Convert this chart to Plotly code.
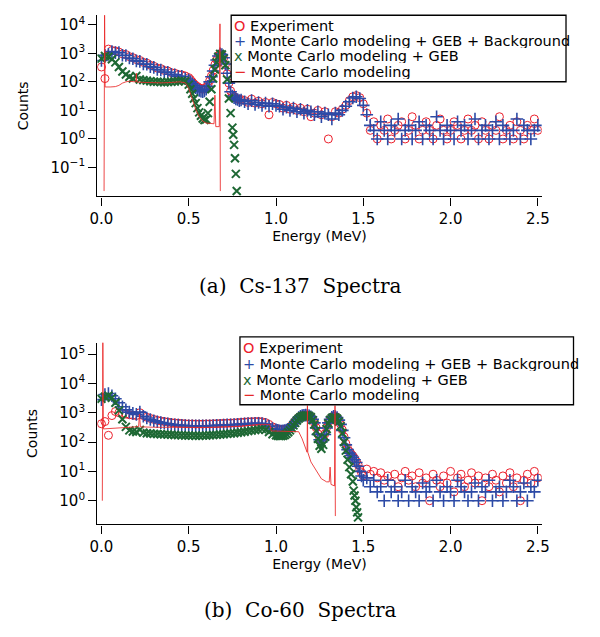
import plotly.graph_objects as go

# ---------------- Cs-137 data ----------------
CS_E = [0.00,0.02,0.04,0.06,0.08,0.10,0.12,0.14,0.16,0.18,0.20,0.22,0.24,0.26,0.28,0.30,0.32,0.34,0.36,0.38,
        0.40,0.42,0.44,0.46,0.48,0.50,
        0.51,0.52,0.53,0.54,0.55,0.56,0.57,0.58,0.59,0.60,0.61,0.62,0.63,0.64,0.65,0.66,0.67,0.68,0.69,0.70,
        0.71,0.72,0.73,0.74,0.75,0.76,0.77,0.78,0.79,0.80,
        0.82,0.84,0.86,0.88,0.90,0.92,0.94,0.96,0.98,1.00,
        1.02,1.04,1.06,1.08,1.10,1.12,1.14,1.16,1.18,1.20,1.22,1.24,1.26,1.28,1.30,1.32,1.34,1.36,1.38,1.40,
        1.42,1.44,1.46,1.48,1.50,1.52,
        1.54,1.56,1.58,1.60,1.62,1.64,1.66,1.68,1.70,1.72,1.74,1.76,1.78,1.80,1.82,1.84,1.86,1.88,1.90,1.92,
        1.94,1.96,1.98,2.00,2.02,2.04,2.06,2.08,2.10,2.12,2.14,2.16,2.18,2.20,2.22,2.24,2.26,2.28,2.30,2.32,
        2.34,2.36,2.38,2.40,2.42,2.44,2.46,2.48,2.50]

CS_EXP = [330,130,1400,1250,1200,1100,950,900,760,700,600,560,480,450,380,350,300,290,250,240,
          210,200,180,175,160,140,
          120,100,85,75,68,62,58,55,58,65,80,110,160,250,400,600,820,950,880,680,
          400,190,90,48,35,30,27,25,24,24,
          22,19,25,18,21,17,19,7,19,17,
          16,12,15,11,13,10,12,9,11,6,8,10,7,9,1,6,9,8,11,15,
          22,30,33,28,17,8,
          2,4,1,3,2,5,1,2,3,4,1,2,6,3,1,2,4,2,1,3,
          5,2,1,2,4,3,1,2,5,2,3,1,4,2,1,3,2,6,1,2,
          3,1,4,2,1,3,2,5,2]

CS_GEB_BG = [560,850,920,1150,1050,1050,850,830,680,640,540,520,420,410,340,320,270,260,220,215,
             185,175,155,155,130,115,
             100,85,72,62,55,50,47,45,48,55,70,100,150,240,380,580,800,950,900,700,
             420,200,90,45,32,28,25,24,22,23,
             20,17,22,16,19,15,18,14,17,15,
             14,11,13,10,12,9,11,8,10,9,7,9,6,8,7,5,8,7,10,14,
             20,27,30,26,15,7,
             3,2,1,4,2,1,3,2,5,1,2,3,1,2,4,1,3,2,1,6,
             2,1,3,2,1,4,2,3,1,2,5,1,2,3,1,2,4,1,3,2,
             1,2,5,1,3,2,1,2,3]

CS_GEB_E = [0.00,0.02,0.04,0.06,0.08,0.10,0.12,0.14,0.16,0.18,0.20,0.22,0.24,0.26,0.28,0.30,0.32,0.34,0.36,0.38,
            0.40,0.42,0.44,0.46,0.48,0.50,
            0.51,0.52,0.53,0.54,0.55,0.56,0.57,0.58,0.59,0.60,0.61,0.62,0.63,0.64,0.65,0.66,0.67,0.68,0.69,0.70,
            0.71,0.72,0.73,0.74,0.75,0.755,0.76,0.765,0.77,0.775]
CS_GEB = [650,800,750,620,480,330,230,180,150,130,160,120,115,110,105,100,100,98,97,98,
          100,102,105,110,105,80,
          55,38,26,18,12,8.5,6.5,5.2,4.6,4.8,8,20,55,130,270,480,760,950,900,650,
          380,120,26,8,2.5,1.4,0.62,0.21,0.06,0.015]

CS_MC_E = [0.015,0.018,0.021,0.05,0.08,0.10,0.12,0.14,0.16,0.19,0.197,0.200,0.203,0.25,0.30,0.35,0.40,0.45,
           0.48,0.50,0.52,0.54,0.56,0.58,0.60,0.62,0.645,0.650,0.655,0.675,0.679,0.681]
CS_MC = [0.015,30000,66,66,68,75,90,100,105,100,100,200,98,95,92,92,95,100,
         92,60,25,11,6,4.2,3.6,3.5,3.4,34,2.7,2.7,10700,0.015]

# ---------------- Co-60 data ----------------
CO_E = [0.00,0.02,0.04,0.06,0.08,0.10,0.12,0.14,0.16,0.18,0.20,0.22,0.24,0.26,0.28,0.30,0.32,0.34,0.36,0.38,
        0.40,0.42,0.44,0.46,0.48,0.50,0.52,0.54,0.56,0.58,0.60,0.62,0.64,0.66,0.68,0.70,0.72,0.74,0.76,0.78,
        0.80,0.82,0.84,0.86,0.88,0.90,0.92,0.94,0.96,0.98,1.00,
        1.01,1.02,1.03,1.04,1.05,1.06,1.07,1.08,1.09,1.10,1.11,1.12,1.13,1.14,1.15,1.16,1.17,1.18,1.19,1.20,
        1.21,1.22,1.23,1.24,1.25,1.26,1.27,1.28,1.29,1.30,1.31,1.32,1.33,1.34,1.35,1.36,1.37,1.38,1.39,1.40,
        1.41,1.42,1.43,1.44,1.45,1.46,1.47,1.48,1.49,1.50,
        1.52,1.54,1.56,1.58,1.60,1.62,1.64,1.66,1.68,1.70,1.72,1.74,1.76,1.78,1.80,1.82,1.84,1.86,1.88,1.90,
        1.92,1.94,1.96,1.98,2.00,2.02,2.04,2.06,2.08,2.10,2.12,2.14,2.16,2.18,2.20,2.22,2.24,2.26,2.28,2.30,
        2.32,2.34,2.36,2.38,2.40,2.42,2.44,2.46,2.48,2.50]

CO_EXP = [420,500,170,800,1100,1000,950,900,850,820,800,
          1000,800,700,640,590,550,520,500,480,460,
          450,440,430,420,415,415,410,410,410,415,
          415,420,425,430,435,440,445,450,460,470,
          480,490,495,500,505,490,460,400,330,290,
          280,270,265,265,270,280,290,320,370,440,
          520,600,690,760,800,830,840,830,800,730,
          610,460,310,190,130,110,130,190,310,460,
          610,710,760,750,690,570,410,260,150,90,
          60,48,40,34,28,22,17,12,9,7,
          12,8,10,6,9,5,7,4,8,3,6,10,5,7,3,9,4,6,1,8,
          5,3,7,4,10,2,6,8,3,5,9,4,7,1,6,3,8,5,2,7,
          4,9,3,6,1,5,8,4,10,6]

CO_GEB_BG = [2800,4200,4500,3800,3000,2200,1600,1250,1050,950,
             880,1050,760,660,590,530,490,460,440,420,
             400,390,380,370,365,360,360,355,355,355,
             360,360,365,370,375,380,385,390,395,400,
             410,420,430,430,435,440,430,400,350,290,260,
             250,240,235,240,245,255,270,300,350,420,
             500,590,680,750,800,820,830,820,790,720,
             600,450,300,180,120,100,120,180,300,450,
             600,700,750,740,680,560,400,250,140,80,
             55,42,35,30,25,20,15,10,7,5,
             6,3,5,2,3,1,5,2,3,1,2,5,1,3,2,1,4,2,3,1,
             5,2,1,3,2,1,5,3,2,1,2,4,1,3,2,5,1,2,3,1,
             2,5,3,1,2,4,1,3,2,5]

CO_GEB_E = [0.00,0.02,0.04,0.06,0.08,0.10,0.12,0.14,0.16,0.18,0.20,0.22,0.24,0.26,0.28,0.30,0.32,0.34,0.36,0.38,
            0.40,0.42,0.44,0.46,0.48,0.50,0.52,0.54,0.56,0.58,0.60,0.62,0.64,0.66,0.68,0.70,0.72,0.74,0.76,0.78,
            0.80,0.82,0.84,0.86,0.88,0.90,0.92,0.94,0.96,0.98,1.00,
            1.01,1.02,1.03,1.04,1.05,1.06,1.07,1.08,1.09,1.10,1.11,1.12,1.13,1.14,1.15,1.16,1.17,1.18,1.19,1.20,
            1.21,1.22,1.23,1.24,1.25,1.26,1.27,1.28,1.29,1.30,1.31,1.32,1.33,1.34,1.35,1.36,1.37,1.38,1.39,1.40,
            1.41,1.42,1.43,1.44,1.445,1.45,1.455,1.46,1.465,1.47]
CO_GEB = [3000,3500,3800,3200,2200,1200,600,330,250,230,
          220,260,210,200,195,190,188,185,183,180,
          178,175,172,170,168,167,166,165,165,166,
          168,170,173,176,180,185,190,195,200,207,
          215,225,235,245,255,265,275,260,220,185,170,
          165,160,160,165,175,190,215,250,300,370,
          450,540,630,700,760,790,800,800,780,700,
          560,400,240,130,75,59,80,150,280,430,
          570,660,700,690,620,500,350,200,100,51,
          25,14,8,4.5,2.2,1.5,1.0,0.6,0.4,0.27]

CO_MC_E = [0.005,0.008,0.011,0.05,0.10,0.15,0.20,0.213,0.218,0.223,0.30,0.40,0.50,0.60,0.70,0.80,0.85,0.90,
           0.95,0.965,0.972,1.00,1.05,1.10,1.13,1.15,1.165,1.178,1.180,1.182,1.20,1.23,1.26,1.29,1.305,
           1.310,1.315,1.335,1.338,1.340]
CO_MC = [1,300000,280,290,300,320,335,335,900,330,320,315,310,315,325,340,370,400,
         400,390,240,235,232,230,225,128,66,45,1750,45,21,10.7,5.6,4.4,4.4,
         14,3.6,3.2,1750,0.3]

X_TICKS = [0, 0.5, 1.0, 1.5, 2.0, 2.5]
X_TICK_TEXT = ["0.0", "0.5", "1.0", "1.5", "2.0", "2.5"]
CS_Y_TICKS = [0.1, 1, 10, 100, 1000, 10000]
CS_Y_TEXT = ["10<sup>\u22121</sup>", "10<sup>0</sup>", "10<sup>1</sup>", "10<sup>2</sup>",
             "10<sup>3</sup>", "10<sup>4</sup>"]
CO_Y_TICKS = [1, 10, 100, 1000, 10000, 100000]
CO_Y_TEXT = ["10<sup>0</sup>", "10<sup>1</sup>", "10<sup>2</sup>", "10<sup>3</sup>",
             "10<sup>4</sup>", "10<sup>5</sup>"]

SERIES = ["Experiment", "Monte Carlo modeling + GEB + Background",
          "Monte Carlo modeling + GEB", "Monte Carlo modeling"]

RED = "rgb(236,32,44)"
BLUE = "rgb(44,74,166)"
GREEN = "rgb(30,104,52)"
LINE_RED = "rgba(234,40,40,0.85)"

W, H = 600, 637
def px(x):
    return x / W
def py(y):
    return 1 - y / H

fig = go.Figure()

def add_panel(xa, ya, e_exp, exp, e_bg, bg, e_geb, geb, e_mc, mc):
    fig.add_trace(go.Scatter(x=e_exp, y=exp, mode="markers", name=SERIES[0], xaxis=xa, yaxis=ya,
                             marker=dict(symbol="circle-open", size=8, color=RED, line=dict(width=1, color=RED))))
    fig.add_trace(go.Scatter(x=e_bg, y=bg, mode="markers", name=SERIES[1], xaxis=xa, yaxis=ya,
                             marker=dict(symbol="cross-thin-open", size=9, color=BLUE, line=dict(width=1.6, color=BLUE))))
    fig.add_trace(go.Scatter(x=e_geb, y=geb, mode="markers", name=SERIES[2], xaxis=xa, yaxis=ya,
                             marker=dict(symbol="x-thin-open", size=8, color=GREEN, line=dict(width=2, color=GREEN))))
    fig.add_trace(go.Scatter(x=e_mc, y=mc, mode="lines", name=SERIES[3], xaxis=xa, yaxis=ya,
                             line=dict(color=LINE_RED, width=1)))

add_panel("x", "y", CS_E, CS_EXP, CS_E, CS_GEB_BG, CS_GEB_E, CS_GEB, CS_MC_E, CS_MC)
add_panel("x2", "y2", CO_E, CO_EXP, CO_E, CO_GEB_BG, CO_GEB_E, CO_GEB, CO_MC_E, CO_MC)

FONT = "DejaVu Sans"
axis_common = dict(showline=True, linecolor="black", linewidth=1.3, ticks="outside", ticklen=8,
                   tickwidth=1.2, tickcolor="black", showgrid=False, zeroline=False, mirror=False,
                   tickfont=dict(family=FONT, size=15, color="black"))

xdom = [px(91.7), px(548.3)]
fig.update_layout(
    width=W, height=H, margin=dict(l=0, r=0, t=0, b=0),
    paper_bgcolor="white", plot_bgcolor="white", showlegend=False,
    xaxis=dict(domain=xdom, anchor="y", range=[-0.024, 2.522], tickvals=X_TICKS, ticktext=X_TICK_TEXT,
               title=dict(text="Energy (MeV)", font=dict(family=FONT, size=14, color="black"), standoff=4),
               **axis_common),
    yaxis=dict(domain=[py(195), py(13.3)], anchor="x", type="log", range=[-2.01, 4.33],
               tickvals=CS_Y_TICKS, ticktext=CS_Y_TEXT,
               title=dict(text="Counts", font=dict(family=FONT, size=14, color="black"), standoff=18),
               **axis_common),
    xaxis2=dict(domain=xdom, anchor="y2", range=[-0.024, 2.522], tickvals=X_TICKS, ticktext=X_TICK_TEXT,
                title=dict(text="Energy (MeV)", font=dict(family=FONT, size=14, color="black"), standoff=4),
                **axis_common),
    yaxis2=dict(domain=[py(524), py(341.7)], anchor="x2", type="log", range=[-0.806, 5.39],
                tickvals=CO_Y_TICKS, ticktext=CO_Y_TEXT,
                title=dict(text="Counts", font=dict(family=FONT, size=14, color="black"), standoff=18),
                **axis_common),
)

# Framed keys (Igor-style legend boxes)
GLYPHS = [("O", RED), ("+", BLUE), ("x", GREEN), ("\u2212", "rgb(230,40,40)")]

def add_key(x0, x1, y0, y1, xt, ys):
    fig.add_shape(type="rect", xref="paper", yref="paper", x0=px(x0), x1=px(x1), y0=py(y1), y1=py(y0),
                  line=dict(color="black", width=1.3), fillcolor="white", layer="above")
    for (g, c), name, yc in zip(GLYPHS, SERIES, ys):
        fig.add_annotation(xref="paper", yref="paper", x=px(xt), y=py(yc), xanchor="left", yanchor="middle",
                           showarrow=False, align="left", height=15, borderpad=0,
                           text=f"<span style='color:{c}'>{g}</span> {name}",
                           font=dict(family=FONT, size=14.5, color="black"))

add_key(229.3, 573.3, 13.3, 80, 231.0, [23.3, 38.5, 54, 69.3])
add_key(238.3, 581.0, 336, 404, 240.0, [346.7, 362.3, 378.5, 393.3])

CAPTIONS = ["(a)\u00a0 Cs-137\u00a0 Spectra", "(b)\u00a0 Co-60\u00a0 Spectra"]
for cap, yc in zip(CAPTIONS, [285, 610]):
    fig.add_annotation(xref="paper", yref="paper", x=px(301), y=py(yc), xanchor="center", yanchor="middle",
                       showarrow=False, text=cap, font=dict(family="DejaVu Serif", size=20, color="black"))

fig.write_html("out.html", config={"displayModeBar": False},
               post_script="document.body.style.margin='0';")
